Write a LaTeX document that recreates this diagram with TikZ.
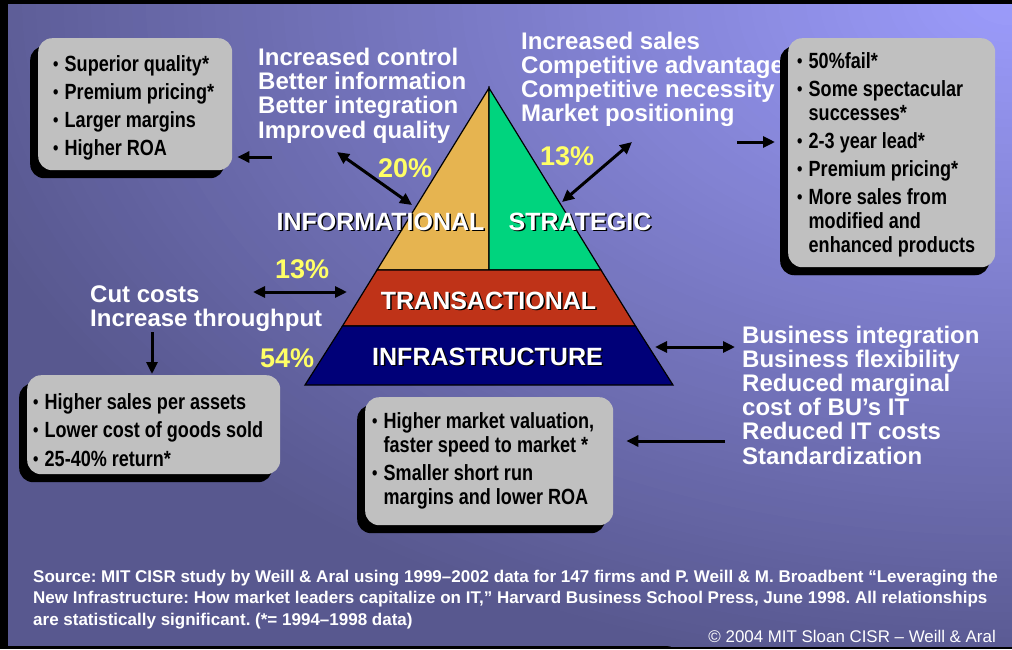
\documentclass[tikz,border=0pt]{standalone}
\usepackage{fontspec}
\setmainfont{Liberation Sans}
\newfontfamily\narrowfont{Liberation Sans}[FakeStretch=0.82]
\usetikzlibrary{arrows.meta,shadows,calc}
\frenchspacing

\definecolor{bglight}{HTML}{9C9CFC}
\definecolor{bgdark}{HTML}{58588F}
\definecolor{boxgray}{HTML}{C0C0C0}
\definecolor{pctyellow}{HTML}{FFFF66}
\definecolor{infoC}{HTML}{E6B450}
\definecolor{stratC}{HTML}{00D47E}
\definecolor{transC}{HTML}{BF3318}
\definecolor{infraC}{HTML}{000078}

% bullet and hanging indent for the list boxes
\newcommand\bl{\makebox[11.5pt][l]{\raisebox{0.8pt}{\scalebox{0.85}{•}}}}
\newcommand\nb{\hspace*{11.5pt}}

\begin{document}
\begin{tikzpicture}[x=1pt,y=-1pt,
  graybox/.style={fill=boxgray, rounded corners=14pt, inner sep=0pt, anchor=north west,
    general shadow={fill=black, shadow xshift=-8pt, shadow yshift=-8pt}},
  boxtext/.style={font=\narrowfont\bfseries\fontsize{22}{28}\selectfont, align=left,
    inner sep=0pt, anchor=base west, text=black},
  wtext/.style={font=\bfseries\fontsize{24}{24.3}\selectfont, text=white, align=left,
    inner sep=0pt, anchor=base west},
  pct/.style={font=\bfseries\fontsize{27}{27}\selectfont, text=pctyellow, inner sep=0pt,
    anchor=base west},
  plabel/.style={font=\bfseries\fontsize{25}{25}\selectfont, text=white, inner sep=0pt,
    anchor=base},
  plshadow/.style={plabel, text=black},
  tier/.style={draw=black, line width=1.2pt, line join=miter},
  arr/.style={line width=3pt, -{Triangle[length=12pt,width=11pt]}},
  darr/.style={line width=3pt, {Triangle[length=12pt,width=11pt]}-{Triangle[length=12pt,width=11pt]}},
  srctext/.style={font=\bfseries\fontsize{17}{21.5}\selectfont, text=white, align=left,
    inner sep=0pt, anchor=base west}
]
\useasboundingbox (0,0) rectangle (1012,649);

% frame and background glow from the upper right corner
\fill[black] (0,0) rectangle (1012,649);
\begin{scope}
  \clip (8,4) rectangle (1012,646);
  \fill[bgdark] (8,4) rectangle (1012,646);
  \foreach \i in {80,79,...,1}{
    \pgfmathsetmacro\p{1.25*\i}
    \pgfmathsetmacro\rx{13.75*\i}
    \pgfmathsetmacro\ry{8.5*\i}
    \fill[bgdark!\p!bglight] (1012,0) ellipse [x radius=\rx pt, y radius=\ry pt];
  }
\end{scope}

% pyramid
\coordinate (apex) at (489,88);
\coordinate (l1) at (377,270);
\coordinate (m1) at (489,270);
\coordinate (r1) at (601,270);
\coordinate (l2) at (342.5,326);
\coordinate (r2) at (635.5,326);
\coordinate (l3) at (305,385);
\coordinate (r3) at (673,385);
\filldraw[tier, fill=infoC] (apex) -- (l1) -- (m1) -- cycle;
\filldraw[tier, fill=stratC] (apex) -- (m1) -- (r1) -- cycle;
\filldraw[tier, fill=transC] (l1) -- (r1) -- (r2) -- (l2) -- cycle;
\filldraw[tier, fill=infraC] (l2) -- (r2) -- (r3) -- (l3) -- cycle;

% tier labels with drop shadow
\node[plshadow] (infolblsh) at (382,231.5) {INFORMATIONAL};
\node[plabel] (infolbl) at (380.5,230) {INFORMATIONAL};
\node[plshadow] (stratlblsh) at (581.5,231.5) {STRATEGIC};
\node[plabel] (stratlbl) at (580,230) {STRATEGIC};
\node[plshadow] (translblsh) at (490,310.5) {TRANSACTIONAL};
\node[plabel] (translbl) at (488.5,309) {TRANSACTIONAL};
\node[plshadow] (infralblsh) at (489,366.5) {INFRASTRUCTURE};
\node[plabel] (infralbl) at (487.5,365) {INFRASTRUCTURE};

% percentages
\node[pct] (p20) at (378,177) {20\%};
\node[pct] (p13s) at (540,165) {13\%};
\node[pct] (p13t) at (275,278) {13\%};
\node[pct] (p54) at (260,367) {54\%};

% white text blocks (base anchor = baseline of the last line)
\node[wtext] (infotext) at (258,138) {Increased control\\Better information\\Better integration\\Improved quality};
\node[wtext, font=\bfseries\fontsize{24}{24}\selectfont] (strattext) at (521,121) {Increased sales\\Competitive advantage\\Competitive necessity\\Market positioning};
\node[wtext, font=\bfseries\fontsize{24}{24}\selectfont] (cuttext) at (90,326) {Cut costs\\Increase throughput};
\node[wtext, font=\bfseries\fontsize{24}{24.2}\selectfont] (biztext) at (742,464) {Business integration\\Business flexibility\\Reduced marginal\\cost of BU’s IT\\Reduced IT costs\\Standardization};

% list boxes
\node[graybox, minimum width=194pt, minimum height=132pt] (tlbox) at (38,38) {};
\node[boxtext] (tltext) at (53,155.5) {\bl Superior quality*\\\bl Premium pricing*\\\bl Larger margins\\\bl Higher ROA};

\node[graybox, minimum width=207pt, minimum height=229pt,
  general shadow={fill=black, shadow xshift=-6pt, shadow yshift=-8pt}] (rbox) at (788,38) {};
\node[boxtext, font=\narrowfont\bfseries\fontsize{22}{24}\selectfont] (rtext) at (797,252)
  {\bl 50\%fail*\\[4pt]\bl Some spectacular\\\nb successes*\\[4pt]\bl 2-3 year lead*\\[4pt]\bl Premium pricing*\\[4pt]\bl More sales from\\\nb modified and\\\nb enhanced products};

\node[graybox, minimum width=253pt, minimum height=99pt] (blbox) at (27,375) {};
\node[boxtext, font=\narrowfont\bfseries\fontsize{22}{28.5}\selectfont] (bltext) at (33,466)
  {\bl Higher sales per assets\\\bl Lower cost of goods sold\\\bl 25-40\% return*};

\node[graybox, minimum width=248pt, minimum height=128pt] (bcbox) at (365,397) {};
\node[boxtext, font=\narrowfont\bfseries\fontsize{22}{24}\selectfont] (bctext) at (372,504)
  {\bl Higher market valuation,\\\nb faster speed to market *\\[4pt]\bl Smaller short run\\\nb margins and lower ROA};

% connectors
\coordinate (tlArr) at (272,157);
\draw[arr, shorten >=5pt] (tlArr) -- (tlArr -| tlbox.east);
\coordinate (infoA) at (337,152);
\coordinate (infoB) at (412,205);
\draw[darr] (infoA) -- (infoB);
\coordinate (stratA) at (562,202);
\coordinate (stratB) at (632,142);
\draw[darr] (stratA) -- (stratB);
\coordinate (rArr) at (737,142);
\draw[arr, shorten >=13pt] (rArr) -- (rArr -| rbox.west);
\coordinate (transA) at (253,292);
\coordinate (transB) at (347,292);
\draw[darr] (transA) -- (transB);
\coordinate (cutArr) at (152,332);
\draw[arr, shorten >=1pt] (cutArr) -- (cutArr |- blbox.north);
\coordinate (infraA) at (655,347);
\coordinate (infraB) at (735,347);
\draw[darr] (infraA) -- (infraB);
\coordinate (bcArr) at (725,441);
\draw[arr, shorten >=13pt] (bcArr) -- (bcArr -| bcbox.east);

% source and copyright lines
\node[srctext] (source) at (33,625) {Source: MIT CISR study by Weill \& Aral using 1999–2002 data for 147 firms and P. Weill \& M. Broadbent “Leveraging the\\New Infrastructure: How market leaders capitalize on IT,” Harvard Business School Press, June 1998. All relationships\\are statistically significant. (*= 1994–1998 data)};
\node[font=\fontsize{16.9}{17}\selectfont, text=white, inner sep=0pt, anchor=base east] (copyright) at (996,642) {© 2004 MIT Sloan CISR – Weill \& Aral};
\end{tikzpicture}
\end{document}
